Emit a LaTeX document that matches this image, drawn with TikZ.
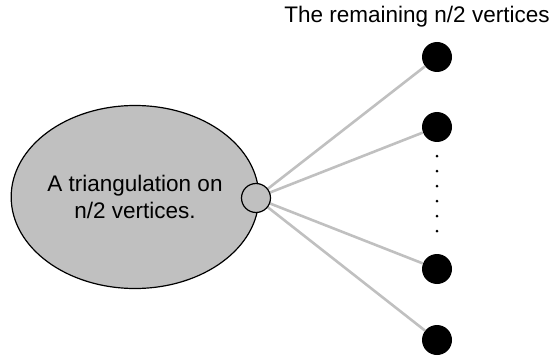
\documentclass[tikz,border=0pt]{standalone}
\usepackage{fontspec}
\setmainfont{Liberation Sans}
\usetikzlibrary{shapes.geometric}
\begin{document}
\begin{tikzpicture}[x=1pt,y=-1pt,
  lbl/.style={font=\fontsize{22.5}{27}\selectfont, inner sep=0pt, align=center},
  blob/.style={ellipse, draw=black, line width=1.2pt, fill={rgb,255:red,192;green,192;blue,192}, minimum width=246pt, minimum height=183pt, inner sep=0pt},
  port/.style={circle, draw=black, line width=1.2pt, fill={rgb,255:red,192;green,192;blue,192}, minimum size=29pt, inner sep=0pt},
  vtx/.style={circle, fill=black, minimum size=30pt, inner sep=0pt},
  edge/.style={draw={rgb,255:red,192;green,192;blue,192}, line width=2.6pt},
  dotline/.style={line width=3pt, line cap=round, dash pattern=on 0pt off 15pt}
]
\useasboundingbox (0,0) rectangle (556,358);
\node[blob, lbl] (tri) at (135,197) {A triangulation on\\n/2 vertices.};
\node[vtx] (v1) at (437,57) {};
\node[vtx] (v2) at (437,127) {};
\node[vtx] (v3) at (437,269) {};
\node[vtx] (v4) at (437,340) {};
\foreach \v in {v1,v2,v3,v4} \draw[edge] (256,198) -- (\v);
\node[port] (p) at (256,198) {};
\node[lbl] (title) at (417,17) {The remaining n/2 vertices};
\draw[dotline] ([yshift=-14pt]v2.south) -- ([yshift=8pt]v3.north);
\end{tikzpicture}
\end{document}
